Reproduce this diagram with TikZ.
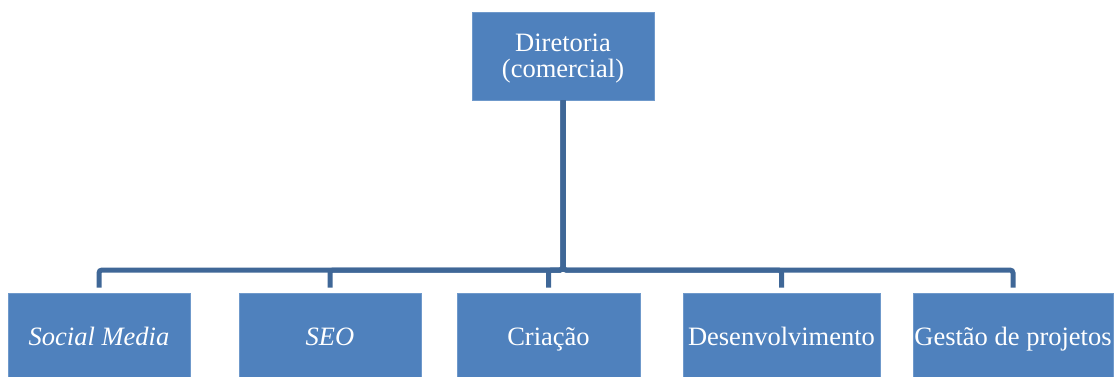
\documentclass[tikz,border=0pt]{standalone}
\usepackage{fontspec}
\setmainfont{Liberation Serif}
\definecolor{boxblue}{HTML}{4F81BD}
\definecolor{boxedge}{HTML}{6F99CB}
\definecolor{linkblue}{HTML}{3F6797}
\begin{document}
\begin{tikzpicture}[x=1pt,y=-1pt,
  box/.style={rectangle, fill=boxblue, draw=boxedge, line width=0.8pt,
    minimum height=88pt, inner sep=0pt, text=white, align=center,
    font=\fontsize{26.5}{26}\selectfont},
  child/.style={box, text height=20pt, text depth=4pt},
  conn/.style={draw=linkblue, line width=5pt, rounded corners=3pt, shorten >=5pt}]
\useasboundingbox (0,0) rectangle (1117,377);
\node[box, minimum width=182pt] (top) at (563,56) {\raisebox{-9.5pt}[0pt][0pt]{\begin{tabular}{@{}c@{}}Diretoria\\(comercial)\end{tabular}}};
\node[child, minimum width=182pt] (sm) at (99,337) {\itshape Social Media};
\node[child, minimum width=182pt] (seo) at (330,337) {\itshape SEO};
\node[child, minimum width=183pt] (cri) at (548.5,337) {Criação};
\node[child, minimum width=197pt] (des) at (781.5,337) {Desenvolvimento};
\node[child, minimum width=200pt] (ges) at (1013,337) {Gestão de projetos};
\coordinate (bus) at (563,270);
\foreach \c in {sm,seo,cri,des,ges}{
  \draw[conn] (top.south) -- (top.south |- bus) -| (\c.north);
}
\end{tikzpicture}
\end{document}
